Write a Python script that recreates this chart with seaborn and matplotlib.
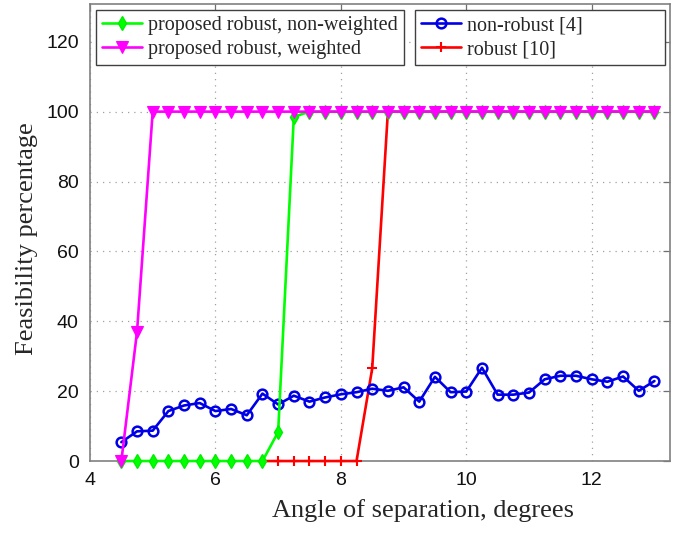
import matplotlib
matplotlib.use("Agg")
import matplotlib.pyplot as plt
import seaborn as sns
import pandas as pd

# Angle of separation (degrees)
angles = [4.5, 4.75, 5.0, 5.25, 5.5, 5.75, 6.0, 6.25, 6.5, 6.75, 7.0, 7.25,
          7.5, 7.75, 8.0, 8.25, 8.5, 8.75, 9.0, 9.25, 9.5, 9.75, 10.0, 10.25,
          10.5, 10.75, 11.0, 11.25, 11.5, 11.75, 12.0, 12.25, 12.5, 12.75, 13.0]

non_robust = [5.4, 8.5, 8.7, 14.3, 15.9, 16.6, 14.3, 14.9, 13.1, 19.3, 16.2, 18.7,
              17.0, 18.2, 19.1, 19.7, 20.7, 20.1, 21.1, 17.0, 24.1, 19.7, 19.9, 26.7,
              19.0, 19.0, 19.6, 23.4, 24.4, 24.4, 23.4, 22.7, 24.2, 20.1, 22.9]

robust_angles = angles[9:]
robust = [0, 0, 0, 0, 0, 0, 0, 26.5, 100, 100, 100, 100, 100, 100,
          100, 100, 100, 100, 100, 100, 100, 100, 100, 100, 100, 100]

prop_nonweighted = [0, 0, 0, 0, 0, 0, 0, 0, 0, 0, 8.3, 98.5,
                    100, 100, 100, 100, 100, 100, 100, 100, 100, 100, 100, 100,
                    100, 100, 100, 100, 100, 100, 100, 100, 100, 100, 100]

prop_weighted = [0, 37, 100, 100, 100, 100, 100, 100, 100, 100, 100, 100,
                 100, 100, 100, 100, 100, 100, 100, 100, 100, 100, 100, 100,
                 100, 100, 100, 100, 100, 100, 100, 100, 100, 100, 100]

x_ticks = [4, 6, 8, 10, 12]
y_ticks = [0, 20, 40, 60, 80, 100, 120]

sns.set_style("white")
plt.rcParams["font.family"] = ["Liberation Sans", "DejaVu Sans"]

fig = plt.figure(figsize=(6.89, 5.33), dpi=100)
ax = fig.add_axes([0.1306, 0.135, 0.842, 0.8575])

df_blue = pd.DataFrame({"x": angles, "y": non_robust})
df_red = pd.DataFrame({"x": robust_angles, "y": robust})
df_green = pd.DataFrame({"x": angles, "y": prop_nonweighted})
df_mag = pd.DataFrame({"x": angles, "y": prop_weighted})

lw = 1.9
sns.lineplot(data=df_red, x="x", y="y", ax=ax, color="#ff0000", lw=lw,
             marker="+", markersize=7, markeredgewidth=1.5, markeredgecolor="#ff0000",
             clip_on=False, zorder=3)
sns.lineplot(data=df_blue, x="x", y="y", ax=ax, color="#0000e6", lw=lw,
             marker="o", markersize=7, markerfacecolor="none",
             markeredgewidth=1.8, markeredgecolor="#0000e6", clip_on=False, zorder=4)
sns.lineplot(data=df_green, x="x", y="y", ax=ax, color="#00ff00", lw=lw,
             marker="d", markersize=7, markeredgewidth=1.0, markeredgecolor="#00ee00",
             markerfacecolor="#00ff00", clip_on=False, zorder=5)
sns.lineplot(data=df_mag, x="x", y="y", ax=ax, color="#ff00ff", lw=lw,
             marker="v", markersize=9, markeredgewidth=0.8, markeredgecolor="#ff00ff",
             markerfacecolor="#ff00ff", clip_on=False, zorder=6)

ax.set_xlim(4, 13.25)
ax.set_ylim(0, 130.8)
ax.set_xticks(x_ticks)
ax.set_yticks(y_ticks)
ax.set_xticklabels([str(t) for t in x_ticks], fontsize=14)
ax.set_yticklabels([str(t) for t in y_ticks], fontsize=14)
ax.tick_params(direction="in", length=5, width=0.9, color="#707070",
               top=True, right=True, pad=8, labelcolor="#111111")
ax.grid(True, linestyle=(0, (1, 4)), color="#a0a0a0", lw=0.9)
for s in ax.spines.values():
    s.set_color("#808080")
    s.set_linewidth(1.2)

serif = ["Liberation Serif", "DejaVu Serif"]
ax.set_xlabel("Angle of separation, degrees", family=serif, fontsize=19)
ax.set_ylabel("Feasibility percentage", family=serif, fontsize=19)
ax.xaxis.set_label_coords(0.574, -0.083)
ax.yaxis.set_label_coords(-0.09, 0.486)

lines = ax.get_lines()
h_red, h_blue, h_green, h_mag = lines[0], lines[1], lines[2], lines[3]

leg_kw = dict(prop={"family": serif, "size": 14.5}, frameon=True, fancybox=False,
              framealpha=1, edgecolor="#404040", handlelength=2.0,
              borderpad=0.3, labelspacing=0.25, handletextpad=0.3)
leg1 = ax.legend([h_green, h_mag],
                 ["proposed robust, non-weighted", "proposed robust, weighted"],
                 loc="upper left", bbox_to_anchor=(0.0103, 0.987),
                 borderaxespad=0.0, **leg_kw)
leg1.get_frame().set_linewidth(1.0)
leg1.set_zorder(10)
ax.add_artist(leg1)
leg2 = ax.legend([h_blue, h_red], ["non-robust [4]", "robust [10]"],
                 loc="upper left", bbox_to_anchor=(0.560, 0.987 - 0.13, 0.431, 0.13),
                 mode="expand", borderaxespad=0.0, **leg_kw)
leg2.get_frame().set_linewidth(1.0)
leg2.set_zorder(10)

fig.savefig("out.png", dpi=100)
